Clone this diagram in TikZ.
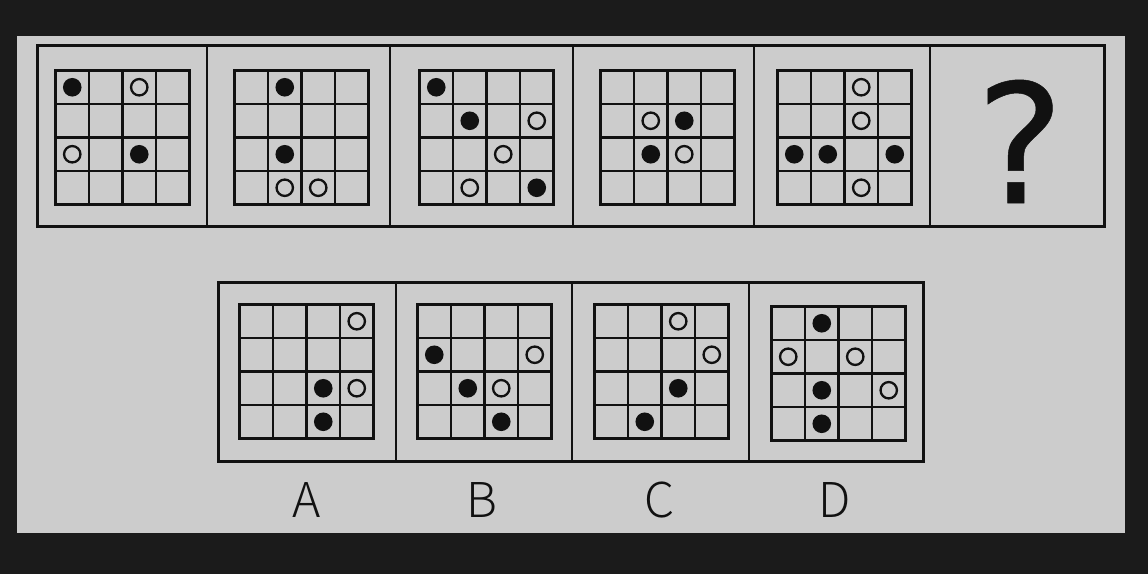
\documentclass[tikz,border=0pt]{standalone}
\usepackage{fontspec}
\newfontfamily\lightsans{Noto Sans CJK SC Light}
\newfontfamily\qfont[FakeBold=0.3]{DejaVu Sans ExtraLight}
\definecolor{bg}{HTML}{1B1B1B}
\definecolor{panel}{HTML}{CCCCCC}
\definecolor{ink}{HTML}{111111}
\tikzset{
  frame/.style={draw=ink,line width=2.8pt},
  gridline/.style={draw=ink,line width=2.8pt,line cap=rect},
  blackdot/.style={fill=ink},
  whitedot/.style={draw=ink,line width=2.3pt},
  label/.style={anchor=base,inner sep=0pt,text=ink,font=\lightsans\fontsize{48}{48}\selectfont}
}
\newcommand\mygrid[4]{%
  \foreach \i in {0,...,4}{
    \draw[gridline] ({#1+\i*33.5},#2) -- ({#1+\i*33.5},{#2+134});
    \draw[gridline] (#1,{#2+\i*33.5}) -- ({#1+134},{#2+\i*33.5});
  }
  \foreach \r/\c in {#3}{
    \fill[blackdot] ({#1+(\c+0.5)*33.5},{#2+(\r+0.5)*33.5}) circle (9.3);
  }
  \foreach \r/\c in {#4}{
    \draw[whitedot] ({#1+(\c+0.5)*33.5},{#2+(\r+0.5)*33.5}) circle (8.2);
  }
}
\begin{document}
\begin{tikzpicture}[x=1pt,y=-1pt]
\useasboundingbox (0,0) rectangle (1148,574);
\fill[bg] (0,0) rectangle (1148,574);
\fill[panel] (17,36) rectangle (1125,533);
% top row frame
\draw[frame] (37.5,45.5) rectangle (1104.5,226.5);
\foreach \x in {207,390,573,754,930}{\draw[frame] (\x,45.5) -- (\x,226.5);}
% bottom row frame
\draw[frame] (218.5,282.5) rectangle (923.5,461.5);
\foreach \x in {396,572,749}{\draw[frame] (\x,282.5) -- (\x,461.5);}
% top grids
\mygrid{55.5}{70.5}{0/0,2/2}{0/2,2/0}
\mygrid{234.5}{70.5}{0/1,2/1}{3/1,3/2}
\mygrid{419.5}{70.5}{0/0,1/1,3/3}{1/3,2/2,3/1}
\mygrid{600.5}{70.5}{1/2,2/1}{1/1,2/2}
\mygrid{777.5}{70.5}{2/0,2/1,2/3}{0/2,1/2,3/2}
% option grids
\mygrid{239.5}{304.5}{2/2,3/2}{0/3,2/3}
\mygrid{417.5}{304.5}{1/0,2/1,3/2}{1/3,2/2}
\mygrid{594.5}{304.5}{2/2,3/1}{0/2,1/3}
\mygrid{771.5}{306.5}{0/1,2/1,3/1}{1/0,1/2,2/3}
% question mark
\node[anchor=base,inner sep=0pt,text=ink,font=\qfont\bfseries\fontsize{166}{166}\selectfont] (q) at (1020,203) {?};
% labels
\node[label] (la) at (307,517) {A};
\node[label] (lb) at (482,517) {B};
\node[label] (lc) at (660,517) {C};
\node[label] (ld) at (835,517) {D};
\end{tikzpicture}
\end{document}
